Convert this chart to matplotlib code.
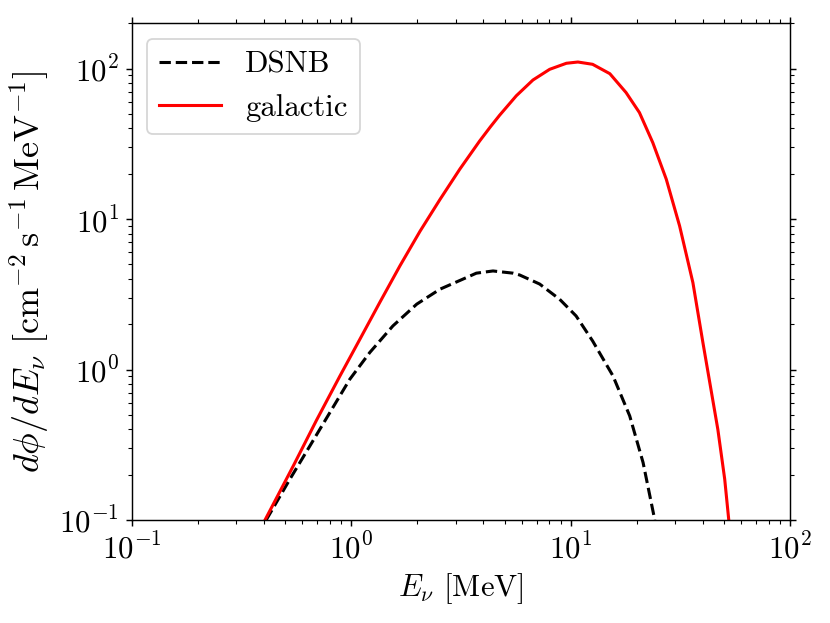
import matplotlib
matplotlib.use("Agg")
import matplotlib.pyplot as plt

plt.rcParams['font.family'] = 'serif'
plt.rcParams['font.serif'] = ['cmr10']
plt.rcParams['mathtext.fontset'] = 'cm'
plt.rcParams['axes.formatter.use_mathtext'] = True
plt.rcParams['axes.unicode_minus'] = False
plt.rcParams['font.size'] = 17

# galactic flux
E_gal = [0.405, 0.545, 0.695, 0.889, 1.096, 1.35, 1.67, 2.06, 2.54, 3.13, 3.85, 4.31,
         4.75, 5.66, 6.74, 8.03, 9.57, 10.8, 12.6, 15.1, 17.9, 20.6, 23.7, 27.3,
         31.4, 36.1, 40.1, 46.9, 50.4, 52.6]
flux_gal = [0.1, 0.229, 0.46, 0.906, 1.59, 2.79, 4.9, 8.3, 13.5, 21.5, 33.0, 41.0,
            49.0, 66.0, 84.0, 98.9, 108.5, 110.6, 106.8, 92.5, 69.3, 51.0, 32.2, 18.4,
            9.0, 3.78, 1.51, 0.40, 0.187, 0.1]

# diffuse supernova neutrino background
E_dsnb = [0.41, 0.526, 0.648, 0.80, 0.986, 1.217, 1.55, 1.99, 2.54, 3.36, 3.72, 4.43,
          5.47, 5.86, 7.23, 8.92, 10.6, 12.6, 15.6, 18.6, 21.4, 24.2]
flux_dsnb = [0.1, 0.187, 0.310, 0.518, 0.862, 1.30, 1.95, 2.72, 3.42, 4.09, 4.37, 4.52,
             4.37, 4.25, 3.70, 2.93, 2.27, 1.55, 0.908, 0.492, 0.241, 0.1]

fig = plt.figure(figsize=(830 / 130, 623 / 130), dpi=130)
ax = fig.add_axes([0.1587, 0.1653, 0.7931, 0.7973])

ax.plot(E_dsnb, flux_dsnb, 'k--', lw=1.7, label='DSNB')
ax.plot(E_gal, flux_gal, 'r-', lw=1.7, label='galactic')

ax.set_xscale('log')
ax.set_yscale('log')
ax.set_xlim(0.1, 100)
ax.set_ylim(0.1, 200)
ax.tick_params(which='both', top=True, right=True)

ax.set_xlabel(r'$E_\nu$ [MeV]')
ax.set_ylabel(r'$d\phi/dE_\nu\ [\mathrm{cm}^{-2}\,\mathrm{s}^{-1}\,\mathrm{MeV}^{-1}]$',
              fontsize=20)
ax.legend(loc='upper left')

fig.savefig('out.png', dpi=130)
